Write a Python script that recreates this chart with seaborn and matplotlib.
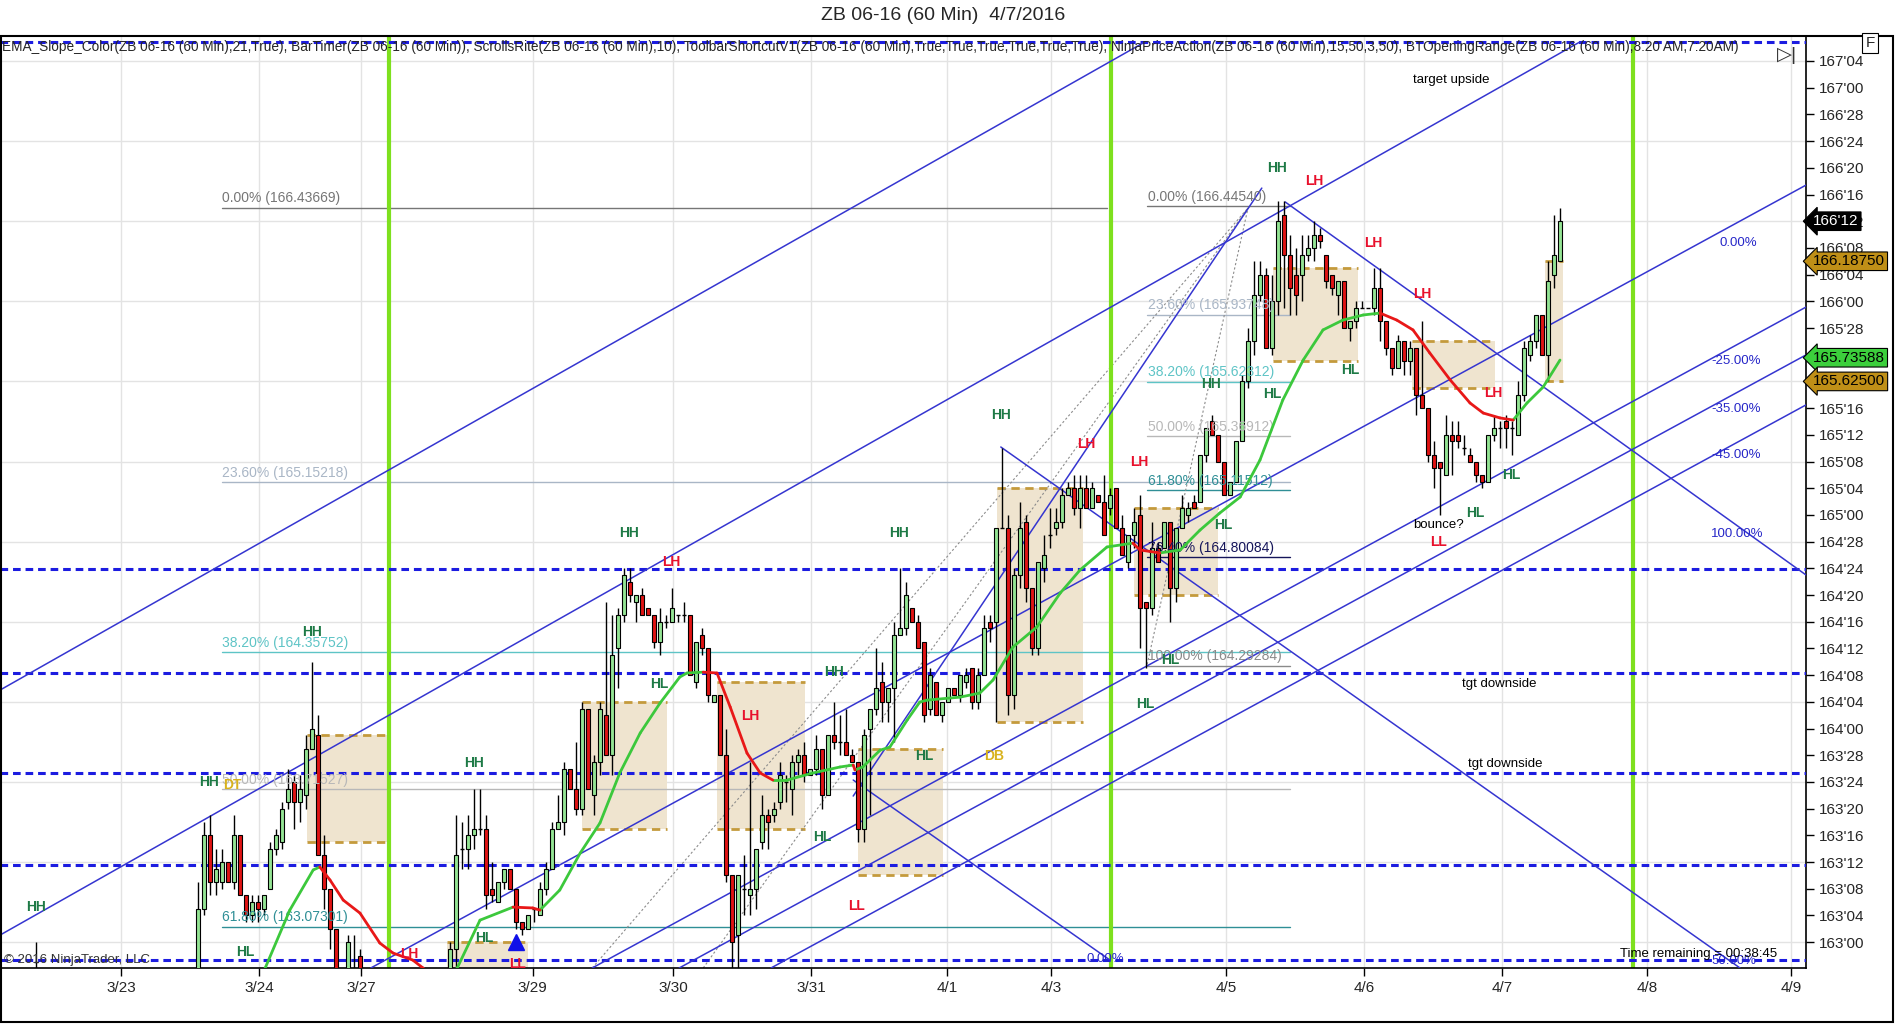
import numpy as np
import pandas as pd
import seaborn as sns
import matplotlib.pyplot as plt
import matplotlib.transforms as mtrans
from matplotlib.patches import Rectangle

# ---------------------------------------------------------------------------
# data: ZB 06-16 hourly bars, prices in 32nds above 160 (None = below chart)
# ---------------------------------------------------------------------------
opens = [90,101,112,105,105,108,105,112,103,100, 102,101,104,110,111,117,120,117,118,125,
         127,109,104,98,None,88,91,94,None,None, None,None,None,None,None,None,None,None,None,None,
         None,None,91,95,110,110,112,113,113,104, 102,105,107,104,99,98,101,100,104,107,
         113,114,122,119,116,131,118,123,130,124, 140,145,150,147,148,146,145,141,144,144,
         145,145,145,135,142,140,132,133,124,106, 97,104,103,104,111,115,115,117,120,119,
         123,124,121,122,125,118,127,126,126,124, 123,113,128,131,135,132,134,142,143,146,
         144,141,131,135,130,132,134,133,135,137, 132,136,144,144,158,158,133,151,159,149,
         140,152,157,158,159,163,164,161,164,161, 163,162,161,164,158,153,157,160,147,146,
         155,155,159,149,158,160,162,162,169,174, 172,168,163,165,171,180,186,193,196,185,
         192,205,199,196,196,199,200,202,199,196, 193,195,188,189,191,191,191,194,189,185,
         182,186,183,185,178,176,169,168,166,172, 172,170,169,168,166,165,172,173,174,173,
         172,178,184,186,190,184,196,198]
highs = [105,114,115,110,110,108,115,112,103,103, 103,103,111,113,117,122,121,121,127,138,
         130,112,104,98,None,97,97,95,None,None, None,None,None,None,None,None,None,None,None,None,
         None,None,96,115,114,115,119,119,115,108, 105,107,107,104,99,100,101,105,108,114,
         118,123,122,126,132,131,124,132,147,145, 146,152,152,148,149,146,145,146,145,149,
         145,147,145,141,143,140,133,133,128,106, 106,109,123,110,118,116,117,123,121,124,
         125,126,122,127,125,127,132,130,131,125, 123,128,131,140,138,134,144,152,150,146,
         145,141,137,135,132,134,134,136,137,137, 137,145,145,158,170,160,152,162,160,149,
         153,157,161,161,164,165,166,166,166,165, 163,166,164,164,160,157,161,163,147,159,
         156,159,159,158,163,162,163,169,173,175, 172,168,165,171,181,188,198,198,197,196,
         207,207,202,200,202,202,204,203,199,196, 195,195,189,192,192,191,197,197,189,185,
         187,186,186,185,189,176,171,168,175,174, 174,172,170,168,166,172,175,174,175,174,
         180,186,187,190,190,198,205,206]
lows = [88,100,103,103,104,105,104,103,99,99, 99,100,104,109,110,116,113,114,116,125,
        109,101,95,86,None,86,87,86,None,None, None,None,None,None,None,None,None,None,None,None,
        None,None,90,92,107,107,110,112,101,102, 102,104,104,98,97,98,99,100,103,107,
        113,112,119,115,115,119,115,121,124,121, 134,144,147,144,145,145,140,139,143,144,
        144,144,136,134,139,132,132,124,105,92, 92,100,100,101,110,110,114,116,117,115,
        121,120,121,121,116,118,125,124,124,123, 111,111,115,130,129,129,126,142,142,144,
        140,129,130,130,129,132,133,132,134,131, 131,136,141,129,158,130,131,149,147,139,
        139,150,155,157,158,163,160,158,161,161, 162,157,160,158,154,152,155,140,137,145,
        153,155,144,147,158,159,161,162,168,172, 168,163,163,165,171,179,184,192,185,184,
        190,191,190,190,192,198,198,200,194,193, 190,188,186,188,191,191,190,186,184,181,
        182,181,181,175,176,168,164,160,166,166, 170,169,168,165,164,165,171,170,170,169,
        172,177,183,185,184,180,194,198]
closes = [101,112,105,107,108,105,112,103,100,102, 101,103,110,112,116,119,117,119,125,128,
          109,104,98,88,None,96,89,88,None,None, None,None,None,None,None,None,None,None,None,None,
          None,None,95,109,110,112,113,113,103,103, 105,107,104,99,98,100,101,104,107,113,
          114,122,119,116,131,119,123,131,124,139, 145,151,148,148,145,145,141,144,144,146,
          145,145,136,141,140,133,133,124,106,96, 106,104,104,110,115,114,116,121,120,123,
          124,121,122,125,118,127,126,126,124,123, 113,127,131,134,132,134,142,143,148,144,
          140,130,136,130,132,134,133,136,136,132, 136,143,143,158,158,133,151,158,149,140,
          153,154,157,159,163,164,161,164,161,164, 162,157,163,158,154,157,159,146,146,155,
          153,159,149,158,161,161,161,169,173,172, 168,163,165,171,180,186,193,196,185,192,
          204,199,194,193,199,200,202,201,195,194, 195,188,189,191,191,191,194,189,185,182,
          186,183,185,178,176,169,167,167,172,171, 171,170,168,166,165,172,173,173,173,173,
          178,185,186,190,184,195,199,204]
# a single early print far to the left (3/23)
early_bar = [-27, 93, 96, 91, 93]

# EMA(21) slope-colour line: bar index / price
ema_bar = [9, 11.2, 15.3, 19.2, 20.3, 22, 24.2, 27, 30.3, 32.5, 35.8, 37.5, 40, 43.2, 47, 52.5, 55.8,
           57, 60.3, 63.7, 67, 70.3, 73.7, 77, 80.3, 81.5, 84.2, 86.5, 88.7, 91.5, 93.7, 95.8, 98.2,
           102.5, 107, 109.2, 109.5, 110.8, 113.7, 115.3, 118.2, 120.3, 121.5, 127, 130.3, 132.5,
           135.8, 139.8, 143.7, 147, 151.5, 155.8, 157, 160.3, 163.7, 167, 170.3, 173.7, 177,
           180.8, 184.2, 187.5, 190.8, 194.2, 197, 199.8, 202.5, 205.3, 208.7, 212, 214.2, 217,
           219.2, 221.5, 224.2, 227]
ema_val = [162.78, 162.879, 163.150, 163.338, 163.352, 163.291, 163.197, 163.136, 162.996, 162.949,
           162.916, 162.879, 162.80, 162.879, 163.103, 163.164, 163.160, 163.150, 163.244, 163.417,
           163.558, 163.792, 163.979, 164.119, 164.241, 164.260, 164.264, 164.260, 164.101, 163.885,
           163.792, 163.759, 163.759, 163.792, 163.820, 163.829, 163.806, 163.820, 163.899, 163.913,
           164.040, 164.124, 164.133, 164.147, 164.166, 164.227, 164.381, 164.475, 164.634, 164.742,
           164.850, 164.868, 164.836, 164.822, 164.836, 164.929, 165.009, 165.084, 165.257, 165.538,
           165.725, 165.866, 165.912, 165.936, 165.945, 165.912, 165.866, 165.758, 165.632, 165.524,
           165.477, 165.454, 165.444, 165.524, 165.599, 165.725]

date_ticks = [-12.8, 10.2, 27.2, 55.8, 79.2, 102.2, 124.8, 142.2, 171.3, 194.3, 217.3, 241.5, 265.5]
date_labels = ['3/23', '3/24', '3/27', '3/29', '3/30', '3/31', '4/1', '4/3', '4/5', '4/6', '4/7', '4/8', '4/9']
week_breaks = [31.8, 152.2, 239.2]

# user drawn horizontal levels
hlines_blue = [167.215, 164.745, 164.262, 163.794, 163.362, 162.915]

# opening range boxes: start bar, end bar, top / bottom in 32nds above 160
box_start = [18.2, 41.5, 64, 86.5, 110, 133.2, 156, 179.2, 202.3, 224.5]
box_end = [32, 55, 78.2, 101.2, 124.2, 147.5, 170, 193.3, 216.2, 227.5]
box_top = [127, 96, 132, 135, 125, 164, 161, 197, 186, 198]
box_bot = [111, 88, 113, 113, 106, 129, 148, 183, 179, 180]

# fibonacci retracements
fib_left_lvl = ['0.00%', '23.60%', '38.20%', '50.00%', '61.80%']
fib_left_px = [166.43669, 165.15218, 164.35752, 163.71527, 163.07301]
fib_right_lvl = ['0.00%', '23.60%', '38.20%', '50.00%', '61.80%', '76.40%', '100.00%']
fib_right_px = [166.44540, 165.93748, 165.62312, 165.36912, 165.11512, 164.80084, 164.29284]
fib_colors = {'0.00%': '#767676', '23.60%': '#a9b6c6', '38.20%': '#5ec4c6', '50.00%': '#b8b8b8',
              '61.80%': '#2f8f96', '76.40%': '#15155a', '100.00%': '#8a8a8a'}

# trend lines (bar, price) -> (bar, price)
trend_lines = [((-33, 164.18), (157.8, 167.214)),
               ((-33, 163.033), (230.3, 167.214)),
               ((28.8, 162.879), (268, 166.544)),
               ((65.7, 162.879), (268, 165.973)),
               ((80.2, 162.879), (268, 165.749)),
               ((95.5, 162.879), (268, 165.515)),
               ((133.8, 165.318), (257, 162.879)),
               ((181.2, 166.465), (268, 164.719)),
               ((109.2, 163.759), (152, 162.916)),
               ((109.2, 163.684), (177.3, 166.53))]
dotted_lines = [((65.7, 162.879), (175, 166.437)),
                ((84.2, 162.879), (175, 166.437)),
                ((158.2, 164.30), (175, 166.437))]

# swing labels
swing_bar = [-27, 1.8, 7.8, 5.7, 19, 35.2, 46, 47.7, 53.2, 71.8, 78.8, 76.8, 92, 104, 109.8, 106, 116.8,
             121, 132.7, 133.8, 148, 156.8, 157.8, 162, 170.8, 168.8, 179, 179.8, 186, 192, 195.8,
             204, 215.8, 212.8, 218.8, 206.8]
swing_px = [163.164, 163.749, 162.954, 163.735, 164.452, 162.944, 163.838, 163.019, 162.898, 164.915,
            164.780, 164.208, 164.058, 163.492, 163.169, 164.264, 164.915, 163.871, 163.871, 165.468,
            165.332, 165.248, 164.115, 164.321, 164.953, 165.613, 165.566, 166.624, 166.563, 165.678,
            166.273, 166.034, 165.571, 165.009, 165.187, 164.873]
swing_txt = ['HH', 'HH', 'HL', 'DT', 'HH', 'LH', 'HH', 'HL', 'LL', 'HH', 'LH', 'HL', 'LH', 'HL', 'LL',
             'HH', 'HH', 'HL', 'DB', 'HH', 'LH', 'LH', 'HL', 'HL', 'HL', 'HH', 'HL', 'HH', 'LH', 'HL',
             'LH', 'LH', 'LH', 'HL', 'HL', 'LL']

notes = [(208.8, 167.036, 'target upside'), (216.8, 164.208, 'tgt downside'),
         (217.8, 163.834, 'tgt downside'), (206.8, 164.953, 'bounce?')]
pct_bar = [256.8, 256.3, 256.3, 256.3, 256.5, 151.3, 256]
pct_px = [166.273, 165.720, 165.496, 165.281, 164.911, 162.921, 162.912]
pct_txt = ['0.00%', '-25.00%', '-35.00%', '-45.00%', '100.00%', '0.00%', '50.00%']

price_flags = [(166.375, "166'12", 'black', 'white'), (166.1875, '166.18750', '#bf8f17', 'black'),
               (165.73588, '165.73588', '#3ccf3c', 'black'), (165.625, '165.62500', '#bf8f17', 'black')]


def p32(n):
    return None if n is None else 160 + n / 32.0


def zb_fmt(p):
    whole = int(np.floor(p + 1e-9))
    ticks = int(round((p - whole) * 32))
    return f"{whole}'{ticks:02d}"


sns.set_theme(style='white')
plt.rcParams['font.family'] = ['Liberation Sans', 'DejaVu Sans']

fig = plt.figure(figsize=(18.96, 10.24), dpi=100)
ax = fig.add_axes([0.0, 56 / 1024, 1806 / 1896, 932 / 1024])
ax.set_xlim(-33, 268)
ax.set_ylim(162.879, 167.242)

# grid
for k in range(12):
    ax.axhline(163 + k * 12 / 32, color='#e3e3e3', lw=1, zorder=0)
for t in date_ticks:
    ax.axvline(t, color='#e3e3e3', lw=1, zorder=0)

# opening range boxes
for s, e, t, b in zip(box_start, box_end, box_top, box_bot):
    ax.add_patch(Rectangle((s, p32(b)), e - s, p32(t) - p32(b), facecolor='#efe4cf',
                           edgecolor='none', zorder=1))
    ax.plot([s, e], [p32(t)] * 2, color='#c49a3c', lw=2, dashes=(3, 2), zorder=1.5)
    ax.plot([s, e], [p32(b)] * 2, color='#c49a3c', lw=2, dashes=(3, 2), zorder=1.5)

# fib retracement lines
for lvl, px in zip(fib_left_lvl, fib_left_px):
    end = 151.5 if lvl == '0.00%' else 182
    ax.plot([4, end], [px, px], color=fib_colors[lvl], lw=1, zorder=2)
    ax.text(4, px + 0.012, f'{lvl} ({px:.5f})', color=fib_colors[lvl], fontsize=10,
            va='bottom', ha='left', zorder=6)
for lvl, px in zip(fib_right_lvl, fib_right_px):
    ax.plot([158.2, 182], [px, px], color=fib_colors[lvl], lw=1, zorder=2)
    ax.text(158.3, px + 0.012, f'{lvl} ({px:.5f})', color=fib_colors[lvl], fontsize=10,
            va='bottom', ha='left', zorder=6)

for (x0, y0), (x1, y1) in dotted_lines:
    ax.plot([x0, x1], [y0, y1], color='#8c8c8c', lw=0.8, ls=(0, (2, 2)), zorder=2)

# week separators
for w in week_breaks:
    ax.axvline(w, color='#7ee01e', lw=3, zorder=2)

# blue dashed levels
for h in hlines_blue:
    ax.axhline(h, color='#1c1ce0', lw=2.2, dashes=(2.5, 1.6), zorder=3)

# trend lines
for (x0, y0), (x1, y1) in trend_lines:
    ax.plot([x0, x1], [y0, y1], color='#3535d0', lw=1.1, zorder=3)

# candles
bars = pd.DataFrame({'o': opens, 'h': highs, 'l': lows, 'c': closes}).astype(float)
bars['bar'] = np.arange(len(bars))
bars.loc[len(bars)] = [early_bar[1], early_bar[2], early_bar[3], early_bar[4], early_bar[0]]
bars = bars.dropna()
for col in ['o', 'h', 'l', 'c']:
    bars[col] = 160 + bars[col] / 32.0
ax.vlines(bars['bar'], bars['l'], bars['h'], color='black', lw=1, zorder=4)
up = bars[bars['c'] > bars['o']]
dn = bars[bars['c'] < bars['o']]
fl = bars[bars['c'] == bars['o']]
ax.bar(up['bar'], up['c'] - up['o'], bottom=up['o'], width=0.68, color='#94e494',
       edgecolor='black', linewidth=0.8, zorder=5)
ax.bar(dn['bar'], dn['o'] - dn['c'], bottom=dn['c'], width=0.68, color='#e01414',
       edgecolor='black', linewidth=0.8, zorder=5)
ax.hlines(fl['o'], fl['bar'] - 0.4, fl['bar'] + 0.4, color='black', lw=1, zorder=5)

# EMA slope colour line via seaborn
rows = []
for k in range(len(ema_bar) - 1):
    d = 'up' if ema_val[k + 1] >= ema_val[k] else 'down'
    rows.append((k, ema_bar[k], ema_val[k], d))
    rows.append((k, ema_bar[k + 1], ema_val[k + 1], d))
segs = pd.DataFrame(rows, columns=['seg', 'bar', 'ema', 'slope'])
sns.lineplot(data=segs, x='bar', y='ema', hue='slope', units='seg', estimator=None, sort=False,
             palette={'up': '#3cc83c', 'down': '#e81818'}, lw=2, legend=False, ax=ax, zorder=6)

# swing labels
for b, p, t in zip(swing_bar, swing_px, swing_txt):
    col = '#1e7a46' if t in ('HH', 'HL') else ('#e8102c' if t in ('LH', 'LL') else '#d8b21c')
    ax.text(b, p, t, color=col, fontsize=10, fontweight='bold', ha='center', va='center', zorder=7)
for b, p, t in notes:
    ax.text(b, p, t, color='black', fontsize=9.5, ha='center', va='center', zorder=7)
for b, p, t in zip(pct_bar, pct_px, pct_txt):
    ax.text(b, p, t, color='#2626c8', fontsize=9.5, ha='center', va='center', zorder=7)
ax.plot([53], [163.0], marker='^', color='#1010e8', markersize=11, zorder=7)

ax.text(-32.4, 162.918, '\u00a9 2016 NinjaTrader, LLC', fontsize=9.5, color='#333333', va='center', zorder=7)
ax.text(237, 162.944, 'Time remaining = 00:38:45', fontsize=9.5, color='black', va='center', zorder=7)

# axes styling
ax.yaxis.tick_right()
yt = [163 + k / 8 for k in range(34)]
ax.set_yticks(yt)
ax.set_yticklabels([zb_fmt(v) for v in yt], fontsize=11)
ax.set_xticks(date_ticks)
ax.set_xticklabels(date_labels, fontsize=11, family=['Liberation Sans Narrow', 'Liberation Sans'])
ax.tick_params(axis='both', direction='out', length=6, width=1, color='black', pad=3)
ax.tick_params(axis='y', right=True, left=False)
ax.tick_params(axis='x', bottom=True)
ax.set_xlabel('')
ax.set_ylabel('')
for sp in ax.spines.values():
    sp.set_color('black')
    sp.set_linewidth(1.2)

trans = mtrans.blended_transform_factory(ax.transAxes, ax.transData)
for px, txt, bg, fg in price_flags:
    ax.text(1.004, px, txt, transform=trans, fontsize=11, color=fg, va='center', ha='left',
            bbox=dict(boxstyle='larrow,pad=0.15', facecolor=bg, edgecolor='black', lw=0.8), zorder=8)

# figure frame, title and indicator header
fig.patches.append(Rectangle((1 / 1896, 2 / 1024), 1892 / 1896, 986 / 1024, transform=fig.transFigure,
                             fill=False, edgecolor='black', lw=1.5))
fig.text(943 / 1896, 1 - 16 / 1024, 'ZB 06-16 (60 Min)  4/7/2016', ha='center', va='center', fontsize=14)
header = ('EMA_Slope_Color(ZB 06-16 (60 Min),21,True), BarTimer(ZB 06-16 (60 Min)), '
          'ScrollsRite(ZB 06-16 (60 Min),10), ToolbarShortcutV1(ZB 06-16 (60 Min),True,True,True,True,True,True), '
          'NinjaPriceAction(ZB 06-16 (60 Min),15,50,3,50), BTOpeningRange(ZB 06-16 (60 Min),8:20 AM,7:20AM)')
head = fig.text(2 / 1896, 1 - 47 / 1024, header, ha='left', va='center', fontsize=12,
                family=['Liberation Sans Narrow', 'Liberation Sans'])
fig.canvas.draw()
w = head.get_window_extent().width
head.set_fontsize(12 * 1740 / w)
fig.text(1870 / 1896, 1 - 43 / 1024, 'F', ha='center', va='center', fontsize=11,
         bbox=dict(boxstyle='square,pad=0.2', facecolor='white', edgecolor='black', lw=0.8))
fig.text(1787 / 1896, 1 - 55 / 1024, '\u25b7|', ha='center', va='center', fontsize=14, color='#333333')

fig.savefig('out.png', dpi=100)
